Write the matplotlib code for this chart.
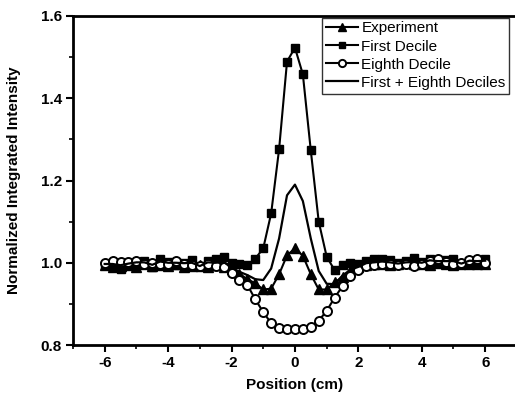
import matplotlib
matplotlib.use('Agg')
import matplotlib.pyplot as plt
from matplotlib.ticker import MultipleLocator, FormatStrFormatter

plt.rcParams['font.family'] = ['Liberation Sans', 'DejaVu Sans']
plt.rcParams['axes.unicode_minus'] = False

# positions along the sample (cm), 0.25 cm steps
position = [-6.0, -5.75, -5.5, -5.25, -5.0, -4.75, -4.5, -4.25, -4.0, -3.75,
            -3.5, -3.25, -3.0, -2.75, -2.5, -2.25, -2.0, -1.75, -1.5, -1.25,
            -1.0, -0.75, -0.5, -0.25, 0.0, 0.25, 0.5, 0.75, 1.0, 1.25,
            1.5, 1.75, 2.0, 2.25, 2.5, 2.75, 3.0, 3.25, 3.5, 3.75,
            4.0, 4.25, 4.5, 4.75, 5.0, 5.25, 5.5, 5.75, 6.0]

experiment = [0.995, 0.990, 0.993, 0.995, 0.990, 0.996, 0.993, 0.995, 0.992, 0.996,
              0.990, 0.993, 0.995, 0.990, 0.995, 0.990, 0.985, 0.973, 0.960, 0.950,
              0.935, 0.937, 0.972, 1.018, 1.035, 1.017, 0.972, 0.935, 0.935, 0.952,
              0.965, 0.980, 0.990, 0.995, 0.996, 0.998, 0.995, 0.997, 1.000, 0.996,
              0.998, 0.995, 1.000, 0.998, 0.995, 1.000, 0.998, 0.996, 0.998]

first_decile = [0.995, 0.990, 0.985, 0.995, 0.998, 1.005, 0.990, 1.010, 1.003, 0.995,
                1.000, 1.006, 0.990, 1.005, 1.008, 1.015, 1.000, 0.998, 0.994, 1.010,
                1.035, 1.120, 1.276, 1.489, 1.523, 1.458, 1.273, 1.100, 1.015, 0.982,
                0.995, 1.000, 0.998, 1.005, 1.008, 1.010, 1.006, 1.000, 1.005, 1.012,
                1.003, 1.008, 1.000, 1.006, 1.010, 0.995, 1.005, 1.000, 1.010]

eighth_decile = [1.000, 1.005, 1.003, 1.002, 1.004, 0.998, 1.000, 0.997, 0.998, 1.005,
                 0.998, 0.995, 0.993, 0.997, 0.993, 0.990, 0.975, 0.958, 0.946, 0.911,
                 0.880, 0.853, 0.842, 0.838, 0.838, 0.840, 0.845, 0.859, 0.883, 0.915,
                 0.943, 0.967, 0.983, 0.993, 0.995, 0.997, 0.996, 0.995, 0.997, 0.993,
                 0.998, 1.005, 1.008, 1.003, 0.998, 1.000, 1.006, 1.008, 1.000]

first_eighth = [0.997, 0.997, 0.994, 0.998, 1.001, 1.001, 0.995, 1.003, 1.000, 1.000,
                0.999, 1.000, 0.992, 1.001, 1.000, 1.002, 0.988, 0.978, 0.970, 0.960,
                0.958, 0.986, 1.059, 1.164, 1.190, 1.150, 1.059, 0.980, 0.949, 0.948,
                0.969, 0.983, 0.990, 0.999, 1.001, 1.003, 1.001, 0.998, 1.001, 1.002,
                1.000, 1.006, 1.004, 1.004, 1.004, 0.998, 1.005, 1.004, 1.005]

fig = plt.figure(figsize=(5.15, 4.03), dpi=100)
ax = fig.add_axes([0.1417, 0.1439, 0.862, 0.8164])

ax.plot(position, experiment, '-^', color='black', lw=1.5, ms=7.5,
        mfc='black', mec='black', label='Experiment')
ax.plot(position, first_decile, '-s', color='black', lw=1.5, ms=6,
        mfc='black', mec='black', label='First Decile')
ax.plot(position, eighth_decile, '-o', color='black', lw=1.5, ms=6.5,
        mfc='white', mec='black', mew=1.4, label='Eighth Decile')
ax.plot(position, first_eighth, '-', color='black', lw=1.6,
        label='First + Eighth Deciles')

ax.set_xlim(-7, 7)
ax.set_ylim(0.8, 1.6)
ax.xaxis.set_major_locator(MultipleLocator(2))
ax.xaxis.set_minor_locator(MultipleLocator(1))
ax.yaxis.set_major_locator(MultipleLocator(0.2))
ax.yaxis.set_minor_locator(MultipleLocator(0.1))
ax.yaxis.set_major_formatter(FormatStrFormatter('%.1f'))

for side in ['left', 'bottom', 'top']:
    ax.spines[side].set_linewidth(2)
ax.spines['right'].set_visible(False)
ax.tick_params(which='major', direction='out', length=5, width=1.5,
               labelsize=11, pad=3)
ax.tick_params(which='minor', direction='out', length=3, width=1.2)
for lbl in ax.get_xticklabels() + ax.get_yticklabels():
    lbl.set_fontweight('bold')

ax.set_xlabel('Position (cm)', fontsize=11, fontweight='bold', labelpad=6)
ax.set_ylabel('Normalized Integrated Intensity', fontsize=11,
              fontweight='bold', labelpad=14)

leg = ax.legend(loc='upper right', bbox_to_anchor=(0.983, 0.995),
                fontsize=11, frameon=True, fancybox=False, markerscale=0.8,
                handlelength=2.1, handletextpad=0.2, borderpad=0.25,
                labelspacing=0.27, borderaxespad=0)
leg.get_frame().set_edgecolor('black')
leg.get_frame().set_linewidth(1)

fig.savefig('out.png', dpi=100)
